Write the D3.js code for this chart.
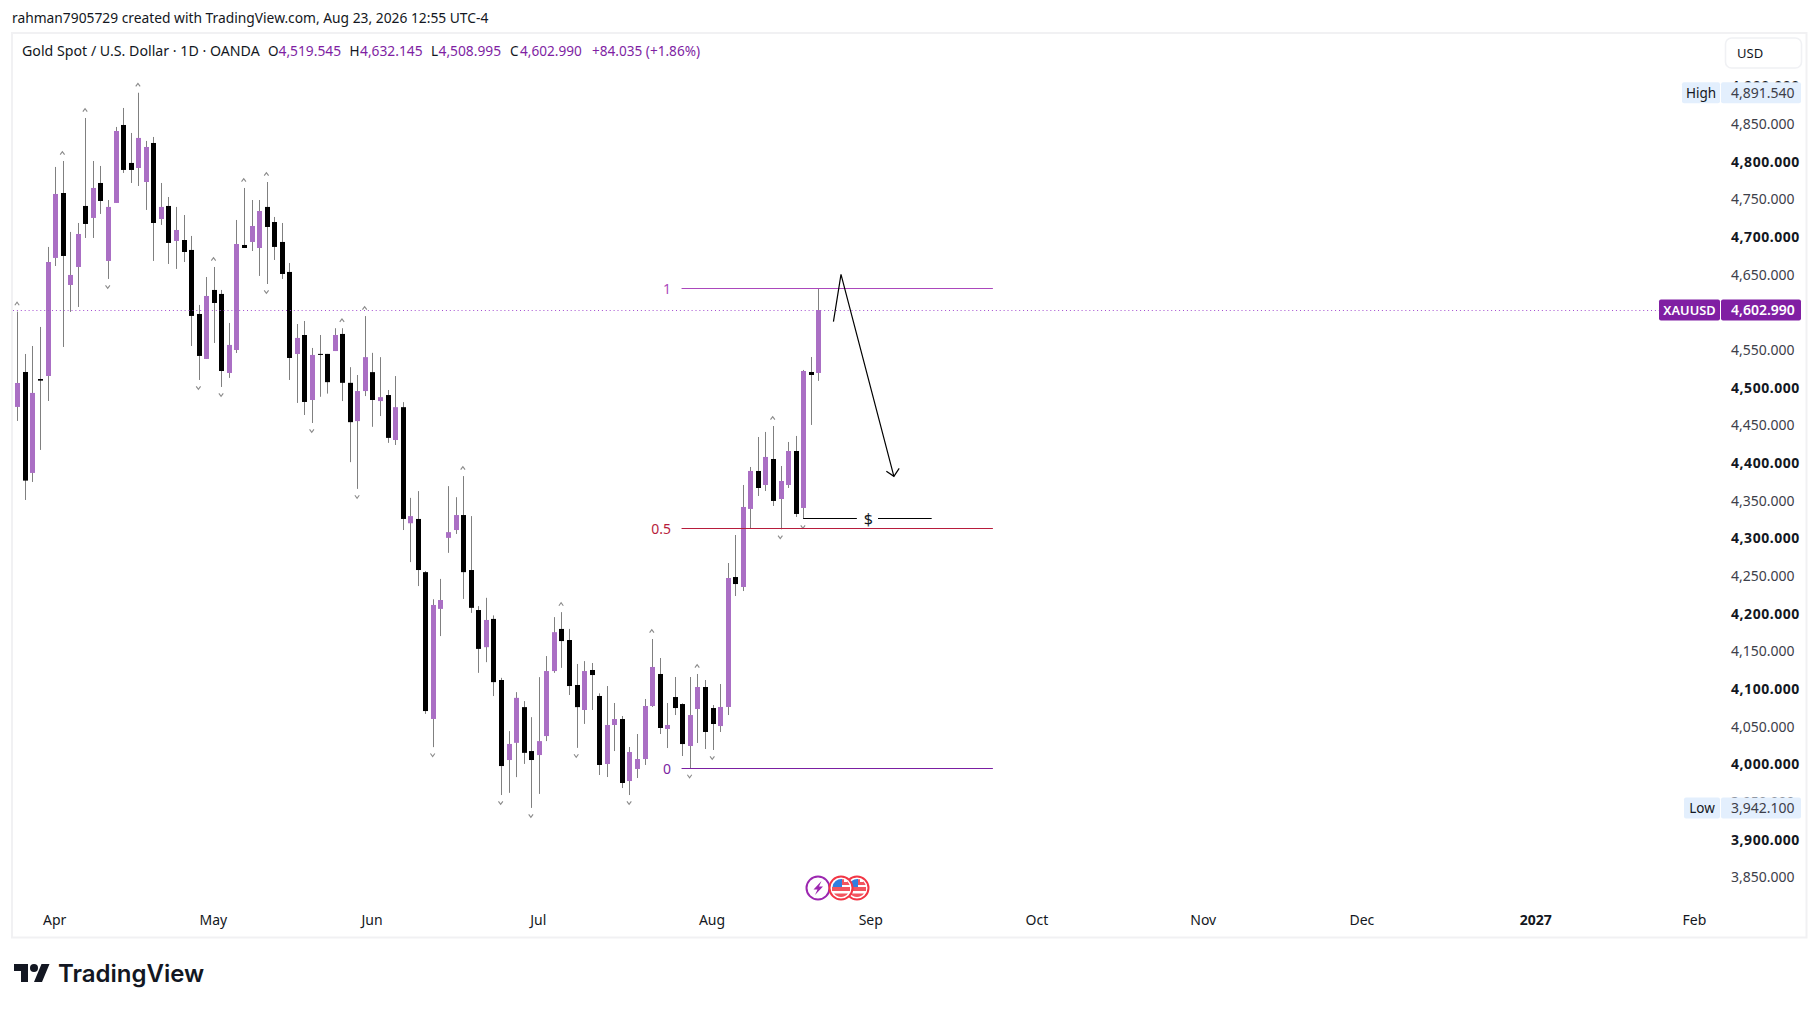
<!DOCTYPE html>
<html>
<head>
<meta charset="utf-8">
<title>XAUUSD</title>
<script src="https://cdn.jsdelivr.net/npm/d3@7/dist/d3.min.js"></script>
<style>
    html, body { margin: 0; padding: 0; background: #ffffff; overflow: hidden; }
    text { font-family: "Noto Sans", sans-serif; fill: #131722; }
</style>
</head>
<body>
<svg id="chart" width="1818" height="1010"></svg>
<script>
// Daily candles
var opens = [4474.4,4520.8,4386.8,4511.5,4515.5,4672.2,4758.4,4636.3,4660.2,4741.2,4725.3,4771.7,4668.2,4745.2,4848.7,4798.3,4791.6,4773,4824.8,4723.9,4741.2,4694.7,4696,4682.8,4597.8,4538.1,4629.7,4624.4,4519.5,4550,4689.4,4693.4,4685.4,4739.9,4719.9,4693.4,4653.6,4544.7,4569.9,4483.6,4544.8,4544.8,4548.6,4571.3,4506.4,4455.6,4495.5,4520.6,4482.2,4490.2,4430.5,4474.1,4320,4325.7,4255.1,4060.2,4206.3,4300.6,4311,4330.9,4257.9,4204.8,4155.5,4193,4111.9,4005.7,4028.5,4075.9,4017.6,4012.3,4037.5,4123.8,4179.7,4165,4105.3,4072.1,4125.2,4090.7,4000.4,4052.2,4060.1,3977.8,3993.8,4007,4077.4,4119.9,4046.9,4089.3,4080,4024.3,4073.4,4102.6,4074.7,4050.8,4076.1,4248.6,4235.4,4339,4389.4,4370.8,4405.3,4352.2,4370.8,4415.9,4340.3,4520.8,4519.5];
var highs = [4600.9,4544.7,4555.3,4580.6,4686.8,4793,4800.9,4706.7,4718.6,4858,4800.9,4794.3,4749.1,4846.1,4871.3,4838.1,4891.5,4827.5,4832.8,4771.7,4753.1,4739.9,4729.2,4701.4,4609.8,4646.9,4660.2,4629.7,4585.9,4722.6,4765.1,4749.1,4749.1,4773,4726.6,4718.6,4665.5,4584.5,4588.5,4552.7,4569.9,4544.8,4578.9,4578.9,4527.2,4516.8,4595,4546.2,4540.5,4496.9,4515.4,4480.8,4353.7,4362.7,4256.5,4219.1,4246.1,4369.3,4354.6,4382.6,4329.5,4210,4221,4197.7,4114.8,4044.1,4095.8,4083.9,4062.6,4115.7,4143.7,4195.4,4202,4179.7,4133.2,4137,4134.5,4094.2,4103.9,4081.4,4064.1,4023,4040.2,4086.7,4166.3,4141.1,4081.4,4115.9,4080.9,4115.9,4119.9,4111.9,4078.7,4106.6,4267.2,4304.4,4370.8,4394.7,4434.5,4441.2,4449.1,4396,4427.9,4435.9,4523.5,4540.7,4632.1];
var lows = [4455.8,4350.9,4374.8,4417.3,4482.3,4661.5,4554,4600.5,4607.1,4698.7,4698.7,4730.6,4644.3,4745.2,4785,4771.7,4767.7,4735.9,4668.2,4716,4664.2,4657.6,4666.8,4555.3,4510.2,4538.1,4559.3,4500.9,4512.9,4546,4685.4,4681.4,4648.3,4637.6,4669.5,4644.3,4510.2,4479.7,4463.7,4453.1,4487.9,4492.1,4548.6,4482.2,4401.1,4365.6,4488.8,4448,4462.3,4426.7,4423.9,4311,4268.4,4236.6,4066.9,4022.8,4170.2,4280.7,4305.8,4219.5,4201,4121.4,4135.6,4090.6,3959.2,3962.1,3983,4000.5,3942.1,3960.7,4030.8,4121.4,4128,4092,4021.8,4053.6,4072.1,3985.8,3983.1,4017.6,3968.5,3959.2,3981.8,3999.1,4076.1,4040.2,4021.6,4065.4,4011,3994.6,4028.3,4020.3,4019,4042.9,4065.4,4223.4,4230,4313.3,4356.2,4362.8,4342.9,4312,4366.8,4328.3,4325.7,4450.5,4509];
var closes = [4506.2,4376.6,4493,4509.3,4666.8,4757.1,4674.8,4649.6,4704,4717.3,4765.1,4747.8,4739.9,4840.7,4789,4789,4831.5,4819.5,4718.6,4739.9,4692.1,4709.3,4680.1,4595.2,4542.1,4621.7,4612.4,4522.1,4556.7,4690.7,4685.4,4714.6,4734.5,4713.3,4686.8,4650.9,4539.4,4566,4481,4543.4,4543.8,4507.3,4569.9,4506.4,4454.2,4495.5,4540.5,4483.6,4487.4,4433.3,4474.1,4325.7,4329.5,4257.9,4070.7,4211.5,4218.1,4308.2,4330.9,4255.1,4207.7,4153.2,4191.6,4109.1,3997.7,4027,4088.2,4015.2,4005.7,4030.8,4123.8,4175.4,4163.6,4103.9,4075.9,4123.8,4118.5,3999.1,4052.2,4060.1,3975.2,4016.3,4007,4077.4,4129.2,4048.2,4052.2,4074.7,4026.9,4065.4,4102.6,4042.9,4053.5,4076.1,4247.3,4239.3,4341.6,4389.4,4366.8,4408,4349.6,4376.1,4415.9,4332.3,4522.1,4516.8,4603];

// Little carets that sit over swing highs and under swing lows
var swingHighs = [0,6,9,16,26,30,33,43,46,59,72,84,90,100];
var swingLows = [12,24,27,33,39,45,55,64,68,74,81,89,92,101,104];

// Axis ticks, 4600 is hidden by the last price label so it is left out
var priceTicks = [3850,3900,3950,4000,4050,4100,4150,4200,4250,4300,4350,4400,4450,4500,4550,4650,4700,4750,4800,4850,4900];
var monthLabels = ["Apr","May","Jun","Jul","Aug","Sep","Oct","Nov","Dec","2027","Feb"];
var monthBars = [5,26,47,69,92,113,135,157,178,201,222];

// Price labels and fib levels
var lastPrice = 4602.99;
var highPrice = 4891.54;
var lowPrice = 3942.1;
var fibLabels = ["1","0.5","0"];
var fibPrices = [4632.145,4313.3,3994.6];
var fibColors = ["#ab47bc","#b71c3c","#7b1fa2"];
var fibBars = [87.9,129.1];

// Hand drawn annotations, in bar / price
var arrowBars = [108,109,116];
var arrowPrices = [4587.6,4650.5,4382.3];
var arrowHeadBars = [115,116,116.7];
var arrowHeadPrices = [4389,4382.3,4392.9];
var dollarPrice = 4326.6;
var dollarBars = [104,111.1,112.6,113.9,121];

var upColor = "#aa6fc4";
var downColor = "#000000";
var wickColor = "#808080";
var lastColor = "#801fa3";
var labelBlue = "#e3effd";

var svg = d3.select("#chart");

// Scales
var xScale = d3.scaleLinear().domain([0, 106]).range([17.33, 818.33]);
var yScale = d3.scaleLinear().domain([3850, 4850]).range([877.3, 124]);

// Header
svg.append("text").attr("x", 12).attr("y", 23).style("font-size", "13.8px").text("rahman7905729 created with TradingView.com, Aug 23, 2026 12:55 UTC-4");

// Frame
svg.append("rect")
    .attr("x", 12).attr("y", 33).attr("width", 1794.5).attr("height", 904.5)
    .attr("fill", "#ffffff").attr("stroke", "#f1f1f3").attr("stroke-width", 2);

// Legend
var legend = [
    ["Gold Spot / U.S. Dollar · 1D · OANDA", 22, "#131722", 14.2],
    ["O", 268, "#131722", 13.5], ["4,519.545", 278.5, lastColor, 13.8],
    ["H", 349.5, "#131722", 13.5], ["4,632.145", 360, lastColor, 13.8],
    ["L", 431, "#131722", 13.5], ["4,508.995", 438.5, lastColor, 13.8],
    ["C", 510, "#131722", 13.5], ["4,602.990", 520, lastColor, 13.6],
    ["+84.035 (+1.86%)", 592, lastColor, 13.6]
];
svg.append("g").selectAll("text").data(legend).join("text")
    .attr("x", function(d) { return d[1] })
    .attr("y", 56)
    .style("font-size", function(d) { return d[3] + "px" })
    .style("fill", function(d) { return d[2] })
    .text(function(d) { return d[0] });

// Candles
var bars = d3.range(opens.length);
var candles = svg.append("g").selectAll("g").data(bars).join("g");

candles.append("line")
    .attr("x1", function(i) { return Math.round(xScale(i)) + 0.5 })
    .attr("x2", function(i) { return Math.round(xScale(i)) + 0.5 })
    .attr("y1", function(i) { return yScale(highs[i]) })
    .attr("y2", function(i) { return yScale(lows[i]) })
    .attr("stroke", wickColor)
    .attr("stroke-width", 1);

candles.append("rect")
    .attr("x", function(i) { return Math.round(xScale(i)) - 2 })
    .attr("width", 5)
    .attr("y", function(i) { return yScale(Math.max(opens[i], closes[i])) })
    .attr("height", function(i) { return Math.max(1, Math.abs(yScale(opens[i]) - yScale(closes[i]))) })
    .attr("fill", function(i) { return closes[i] > opens[i] ? upColor : downColor });

// Swing carets
svg.append("g").selectAll("path").data(swingHighs).join("path")
    .attr("d", "M-2.2,1.6L0,-1.4L2.2,1.6")
    .attr("fill", "none").attr("stroke", "#8a8a8a").attr("stroke-width", 1.1)
    .attr("transform", function(i) { return "translate(" + (xScale(i) - 0.3) + "," + (yScale(highs[i]) - 8) + ")" });

svg.append("g").selectAll("path").data(swingLows).join("path")
    .attr("d", "M-2.2,-1.6L0,1.4L2.2,-1.6")
    .attr("fill", "none").attr("stroke", "#8a8a8a").attr("stroke-width", 1.1)
    .attr("transform", function(i) { return "translate(" + (xScale(i) - 0.3) + "," + (yScale(lows[i]) + 8) + ")" });

// Last price line
svg.append("line")
    .attr("x1", 13).attr("x2", 1659)
    .attr("y1", Math.round(yScale(lastPrice)) + 0.5).attr("y2", Math.round(yScale(lastPrice)) + 0.5)
    .attr("stroke", "#a44fd0").attr("stroke-width", 1).attr("stroke-dasharray", "1,2.9");

// Fib levels
fibPrices.forEach(function(p, i) {
    var y = Math.round(yScale(p)) + 0.5;
    svg.append("line")
        .attr("x1", xScale(fibBars[0])).attr("x2", xScale(fibBars[1]))
        .attr("y1", y).attr("y2", y)
        .attr("stroke", fibColors[i]).attr("stroke-width", 1.2);
    svg.append("text")
        .attr("x", 671).attr("y", y + 5)
        .attr("text-anchor", "end")
        .style("font-size", "14px")
        .style("fill", fibColors[i])
        .text(fibLabels[i]);
});

// Drawn arrow
var drawLine = d3.line()
    .x(function(d) { return xScale(d[0]) })
    .y(function(d) { return yScale(d[1]) });

svg.append("path")
    .attr("d", drawLine(d3.zip(arrowBars, arrowPrices)))
    .attr("fill", "none").attr("stroke", "#000000").attr("stroke-width", 1.2);
svg.append("path")
    .attr("d", drawLine(d3.zip(arrowHeadBars, arrowHeadPrices)))
    .attr("fill", "none").attr("stroke", "#000000").attr("stroke-width", 1.2);

// $ level
var dollarY = Math.round(yScale(dollarPrice)) + 0.5;
svg.append("line")
    .attr("x1", xScale(dollarBars[0])).attr("x2", xScale(dollarBars[1]))
    .attr("y1", dollarY).attr("y2", dollarY)
    .attr("stroke", "#000000").attr("stroke-width", 1);
svg.append("line")
    .attr("x1", xScale(dollarBars[3])).attr("x2", xScale(dollarBars[4]))
    .attr("y1", dollarY).attr("y2", dollarY)
    .attr("stroke", "#000000").attr("stroke-width", 1);
svg.append("text")
    .attr("x", xScale(dollarBars[2])).attr("y", dollarY + 6)
    .attr("text-anchor", "middle")
    .style("font-size", "16px")
    .text("$");

// Price axis
var yAxis = svg.append("g")
    .attr("transform", "translate(1731,0)")
    .call(d3.axisRight(yScale).tickValues(priceTicks).tickSize(0).tickPadding(0).tickFormat(d3.format(",.3f")));
yAxis.select(".domain").remove();
yAxis.selectAll("text")
    .style("font-family", "\"Noto Sans\", sans-serif")
    .style("font-size", "14px")
    .style("font-weight", function(d) { return d % 100 == 0 ? "700" : "400" })
    .style("letter-spacing", function(d) { return d % 100 == 0 ? "0.55px" : "0" })
    .style("fill", function(d) { return d % 100 == 0 ? "#131722" : "#3d404a" });

// Price labels on the axis
function priceLabel(price, name, nameX, fill, color, bold) {
    var y = yScale(price);
    svg.append("rect").attr("x", nameX).attr("y", y - 10.5).attr("width", 1720 - nameX).attr("height", 21).attr("rx", 2).attr("fill", fill);
    svg.append("rect").attr("x", 1721).attr("y", y - 10.5).attr("width", 80).attr("height", 21).attr("rx", 2).attr("fill", fill);
    svg.append("text").attr("x", (nameX + 1720) / 2).attr("y", y + 5)
        .attr("text-anchor", "middle")
        .style("font-size", bold ? "12.8px" : "13.5px")
        .style("font-weight", bold ? "600" : "400")
        .style("fill", color)
        .text(name);
    svg.append("text").attr("x", 1731).attr("y", y + 5)
        .style("font-size", "14px")
        .style("font-weight", bold ? "600" : "400")
        .style("fill", bold ? color : "#3d404a")
        .text(d3.format(",.3f")(price));
}
priceLabel(highPrice, "High", 1682, labelBlue, "#131722", false);
priceLabel(lowPrice, "Low", 1684, labelBlue, "#131722", false);
priceLabel(lastPrice, "XAUUSD", 1659, lastColor, "#ffffff", true);

// USD button
svg.append("rect")
    .attr("x", 1725.5).attr("y", 38).attr("width", 76).attr("height", 30).attr("rx", 6)
    .attr("fill", "#ffffff").attr("stroke", "#f0f1f4").attr("stroke-width", 1.6);
svg.append("text").attr("x", 1737).attr("y", 58).style("font-size", "13px").text("USD");

// Time axis
var xAxis = svg.append("g")
    .attr("transform", "translate(-1,915.5)")
    .call(d3.axisBottom(xScale).tickValues(monthBars).tickSize(0).tickPadding(0).tickFormat(function(d, i) { return monthLabels[i] }));
xAxis.select(".domain").remove();
xAxis.selectAll("text")
    .style("font-family", "\"Noto Sans\", sans-serif")
    .style("font-size", "14px")
    .style("font-weight", function(d, i) { return monthLabels[i] == "2027" ? "700" : "400" })
    .style("fill", "#131722");

// Economic event badges
var bolt = svg.append("g").attr("transform", "translate(818,888)");
bolt.append("circle").attr("r", 11.5).attr("fill", "#ffffff").attr("stroke", "#9c27b0").attr("stroke-width", 2);
bolt.append("path").attr("d", "M3.5,-7L-4.5,1.5H-0.5L-3,7L5,-1.5H1Z").attr("fill", "#9c27b0");

[857, 841].forEach(function(cx) {
    var g = svg.append("g").attr("transform", "translate(" + cx + ",888)");
    g.append("circle").attr("r", 11.5).attr("fill", "#ffffff").attr("stroke", "#f23645").attr("stroke-width", 2);
    g.append("path").attr("d", "M-8.5,-1H9V3H-9V-1ZM-7,5.5H7A9,9 0 0 1 0,9A9,9 0 0 1 -7,5.5Z").attr("fill", "#f2555f");
    g.append("path").attr("d", "M-8.5,-1A9,9 0 0 1 1,-9V-1Z").attr("fill", "#2f7fe0");
    g.append("path").attr("d", "M1,-8.8H3V-6H6V-6.8Q8,-5 8.6,-3H1Z").attr("fill", "#f2555f");
});

// TradingView mark
var logo = svg.append("g").attr("transform", "translate(14,960)");
logo.append("path").attr("d", "M14 22H7V11H0V4h14v18zM28 22h-8l7.5-18h8L28 22z").attr("fill", "#131722");
logo.append("circle").attr("cx", 20).attr("cy", 8).attr("r", 4).attr("fill", "#131722");
svg.append("text").attr("x", 58).attr("y", 982)
    .style("font-family", "Inter, sans-serif")
    .style("font-size", "24px")
    .style("font-weight", "600")
    .text("TradingView");
</script>
</body>
</html>
